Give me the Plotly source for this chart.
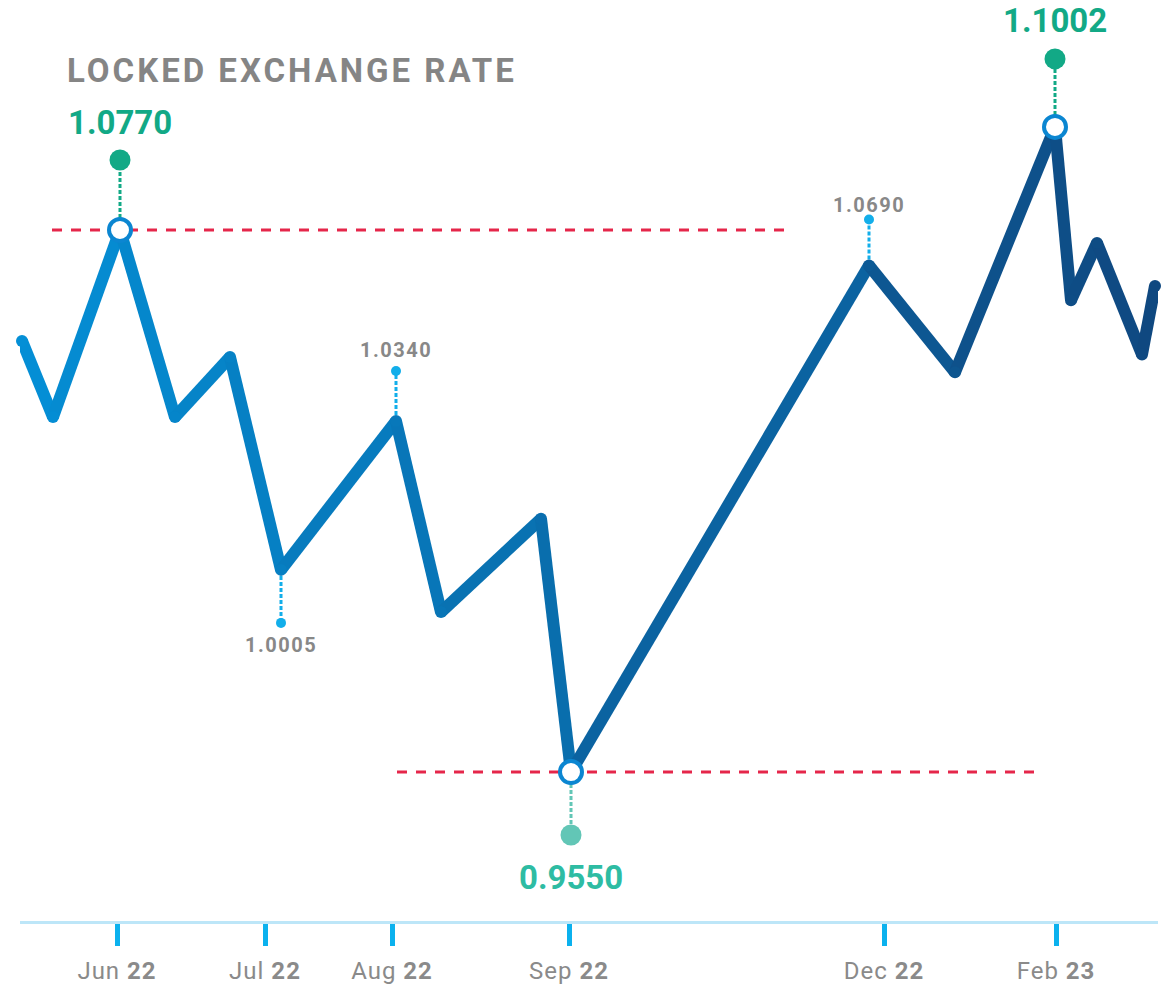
import plotly.graph_objects as go

# ---------------- data ----------------
# position along the (non-uniform) time axis
x_pos = [2, 33, 100, 155, 210, 261, 376, 421, 521, 551, 849, 935, 1035, 1051, 1077, 1122, 1135]
rates = [1.0520, 1.0349, 1.0770, 1.0349, 1.0484, 1.0005, 1.0340, 0.9910, 1.0120,
         0.9550, 1.0690, 1.0450, 1.1002, 1.0612, 1.0741, 1.0490, 1.0644]

tick_pos = [97, 245, 372, 549, 864, 1036]
tick_month = ["Jun", "Jul", "Aug", "Sep", "Dec", "Feb"]
tick_year = ["22", "22", "22", "22", "22", "23"]

# highlighted values (indices into rates)
big_labels = [2, 12, 9]          # 1.0770, 1.1002, 0.9550
small_labels = [5, 6, 10]        # 1.0005, 1.0340, 1.0690

# locked-rate reference levels and their x extents
locked_levels = [1.0770, 0.9550]
locked_extent = [(32, 765), (377, 1023)]

# ---------------- styling / geometry ----------------
W, H = 1175, 986
ML, MR, MT, MB = 20, 17, 0, 65
PLOT_H = H - MT - MB
Y_RANGE = [0.92147, 1.12877]
X_RANGE = [0, W - ML - MR]
PX_PER_UNIT = PLOT_H / (Y_RANGE[1] - Y_RANGE[0])


def dy(px):
    """convert a screen offset (px, downwards positive) to data units"""
    return -px / PX_PER_UNIT


C0 = (4, 143, 214)
C1 = (15, 72, 128)


def grad(xv):
    f = (xv - x_pos[0]) / (x_pos[-1] - x_pos[0])
    f = min(max(f, 0), 1)
    c = [round(a + (b - a) * f) for a, b in zip(C0, C1)]
    return f"rgb({c[0]},{c[1]},{c[2]})"


GREEN = "#12A986"
TEAL_DOT = "#62C6B6"
TEAL_TXT = "#2EBCA3"
SMALL_BLUE = "#12AEEA"
GRAY = "#888888"
RED = "#E5264A"
CIRCLE_BLUE = "#0B86D1"

fig = go.Figure()

# main line, drawn segment by segment for a left-to-right gradient
for i in range(len(x_pos) - 1):
    fig.add_trace(go.Scatter(
        x=[x_pos[i], x_pos[i + 1]], y=[rates[i], rates[i + 1]],
        mode="lines", line=dict(color=grad((x_pos[i] + x_pos[i + 1]) / 2), width=12),
        cliponaxis=False, hoverinfo="skip", showlegend=False))
# round joints / caps
fig.add_trace(go.Scatter(
    x=x_pos, y=rates, mode="markers",
    marker=dict(size=12, color=[grad(v) for v in x_pos], line=dict(width=0)),
    cliponaxis=False, hoverinfo="skip", showlegend=False))

shapes = []
annotations = []

# locked rate dashed red lines
for lvl, (xa, xb) in zip(locked_levels, locked_extent):
    shapes.append(dict(type="line", xref="x", yref="y", x0=xa, x1=xb, y0=lvl, y1=lvl,
                       line=dict(color=RED, width=3, dash="10px,9px"), layer="below"))

# big labels (extremes)
big_cfg = {2: (-70, -108, GREEN, GREEN, GREEN),
           12: (-68, -106, GREEN, GREEN, GREEN),
           9: (63, 105, TEAL_DOT, TEAL_DOT, TEAL_TXT)}
for i in big_labels:
    dot_off, txt_off, dcol, lcol, tcol = big_cfg[i]
    xv, yv = x_pos[i], rates[i]
    shapes.append(dict(type="line", xref="x", yref="y", x0=xv, x1=xv, y0=yv, y1=yv + dy(dot_off),
                       line=dict(color=lcol, width=3, dash="4px,2px"), layer="below"))
    fig.add_trace(go.Scatter(x=[xv], y=[yv + dy(dot_off)], mode="markers",
                             marker=dict(size=21, color=dcol), cliponaxis=False,
                             hoverinfo="skip", showlegend=False))
    fig.add_trace(go.Scatter(x=[xv], y=[yv], mode="markers",
                             marker=dict(size=22, color="white", line=dict(color=CIRCLE_BLUE, width=4)),
                             cliponaxis=False, hoverinfo="skip", showlegend=False))
    annotations.append(dict(x=xv, y=yv, xref="x", yref="y", text=f"<b>{yv:.4f}</b>",
                            showarrow=False, yshift=-txt_off,
                            font=dict(family="Roboto", size=33, color=tcol)))

# small labels
small_cfg = {5: (53, 75), 6: (-50, -71), 10: (-46, -61)}
for i in small_labels:
    dot_off, txt_off = small_cfg[i]
    xv, yv = x_pos[i], rates[i]
    shapes.append(dict(type="line", xref="x", yref="y", x0=xv, x1=xv, y0=yv, y1=yv + dy(dot_off),
                       line=dict(color=SMALL_BLUE, width=3, dash="4px,2px"), layer="below"))
    fig.add_trace(go.Scatter(x=[xv], y=[yv + dy(dot_off)], mode="markers",
                             marker=dict(size=10, color=SMALL_BLUE), cliponaxis=False,
                             hoverinfo="skip", showlegend=False))
    annotations.append(dict(x=xv, y=yv, xref="x", yref="y",
                            text=f'<span style="letter-spacing:1.5px"><b>{yv:.4f}</b></span>',
                            showarrow=False, yshift=-txt_off,
                            font=dict(family="Roboto", size=20, color=GRAY)))

fig.update_layout(
    width=W, height=H,
    margin=dict(l=ML, r=MR, t=MT, b=MB, autoexpand=False),
    paper_bgcolor="white", plot_bgcolor="white",
    showlegend=False,
    hovermode=False,
    title=dict(text='<span style="letter-spacing:3px"><b>LOCKED EXCHANGE RATE</b></span>',
               x=67 / W, xanchor="left", xref="container",
               y=1 - 70 / H, yanchor="middle", yref="container",
               font=dict(family="Roboto", size=33, color="#858585")),
    xaxis=dict(range=X_RANGE, showgrid=False, zeroline=False, automargin=False,
               showline=True, linecolor="#BDE6F8", linewidth=3,
               tickmode="array", tickvals=tick_pos,
               ticktext=[f'<span style="letter-spacing:1px">{m} <b>{y}</b></span>'
                         for m, y in zip(tick_month, tick_year)],
               ticks="outside", ticklen=22, tickwidth=5, tickcolor="#0BB1EE",
               ticklabelstandoff=4,
               tickfont=dict(family="Roboto", size=24, color="#8A8A8A"),
               fixedrange=True),
    yaxis=dict(range=Y_RANGE, visible=False, showgrid=False, zeroline=False,
               automargin=False, fixedrange=True),
    shapes=shapes,
    annotations=annotations,
)

# remove the page's default 8px body margin so the figure fills the window exactly
fig.write_html("out.html",
               config={"displayModeBar": False, "staticPlot": True},
               post_script="document.body.style.margin='0px';document.body.style.overflow='hidden';")
